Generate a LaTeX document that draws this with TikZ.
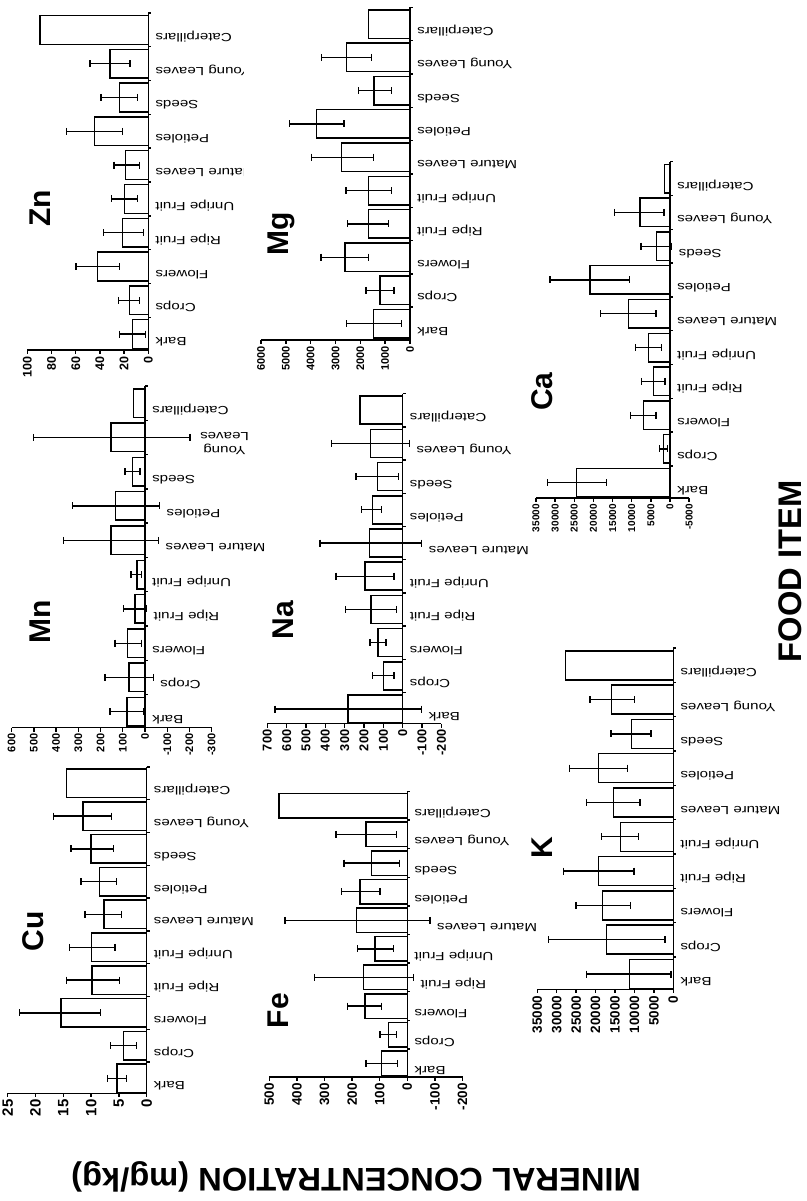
\documentclass[tikz,border=0pt]{standalone}
\usepackage{fontspec}
\setmainfont{Liberation Sans}
\usepackage{graphicx}
\tikzset{
  ax/.style={line width=1.4pt},
  barbox/.style={draw=black, fill=white, line width=1.5pt},
  errbar/.style={line width=1.3pt},
  catlab/.style={rotate=180, anchor=base east, inner sep=0pt, font=\fontsize{11.8}{14}\selectfont},
  ticklab/.style={rotate=90, anchor=east, inner sep=0pt},
  paneltitle/.style={rotate=90, anchor=base, inner sep=0pt, font=\bfseries\fontsize{30}{34}\selectfont},
  bigtitle/.style={inner sep=0pt, font=\bfseries\fontsize{32.7}{36}\selectfont},
}
% #1 id, #2 ticks value/label, #3 data name/value/hi/lo, #4 tick font size
\newcommand\drawpanel[4]{%
  \foreach \nm/\val/\hi/\lo [count=\k] in {#3} {
    \pgfmathsetmacro\yc{\Yb-\Bh/2-(\k-1)*\Pt}
    \draw[ax] (\Xo,\yc-\Pt/2) -- ++(3,0);
    \draw[barbox] ({\Xo-\Sc*\val},\yc-\Bh/2) rectangle (\Xo,\yc+\Bh/2);
    \ifdim\hi pt>0pt
      \draw[errbar] ({\Xo-\Sc*\hi},\yc) -- ({\Xo-\Sc*\lo},\yc);
      \draw[errbar] ({\Xo-\Sc*\hi},\yc-3.5) -- ++(0,7);
      \draw[errbar] ({\Xo-\Sc*\lo},\yc-3.5) -- ++(0,7);
    \fi
    \pgfmathsetmacro\lx{max(\Xo,\Xo-\Sc*\lo)+7}
    \node[catlab] (#1c\k) at (\lx,\yc+3.5) {\scalebox{1.28}[1]{\nm}};
  }
  \pgfmathsetmacro\Ytop{\Yb-\Bh/2-9*\Pt-\Pt/2}
  \draw[ax] (\Xo,\Ya) -- (\Xo,\Ytop);
  \draw[ax] ({\Xo-\Sc*\Vmax},\Ya) -- ({\Xo-\Sc*\Vmin},\Ya);
  \foreach \tv/\tlab [count=\k] in {#2} {
    \draw[ax] ({\Xo-\Sc*\tv},\Ya) -- ++(0,4);
    \node[ticklab, font=\bfseries\fontsize{#4}{#4}\selectfont] (#1t\k) at ({\Xo-\Sc*\tv},\Ya+6) {\tlab};
  }
}
\begin{document}
\begin{tikzpicture}[x=1pt,y=-1pt]
\fill[white] (0,0) rectangle (806,1201);
\useasboundingbox (0,0) rectangle (806,1201);

% ---------- Zn ----------
\begin{scope}
\clip (0,0) rectangle (243,400);
\def\Xo{148.3}\def\Sc{1.21}\def\Ya{350}\def\Yb{348.5}\def\Pt{33.8}\def\Bh{28.8}\def\Vmin{0}\def\Vmax{100}
\drawpanel{zn}{0/0,20/20,40/40,60/60,80/80,100/100}{Bark/13.2/23.7/2.2,Crops/15.7/24.5/7.4,Flowers/42.1/59.8/24,Ripe Fruit/21.2/37.2/4.1,Unripe Fruit/19.8/30.3/9.1,Mature Leaves/18.7/28.4/7.4,Petioles/44.6/67.5/21.2,Seeds/24/39.1/9.1,Young Leaves/31.7/48.2/15.2,Caterpillars/89.5/0/0}{12.5}
\end{scope}
\node[paneltitle] (tZn) at (50,208.5) {Zn};

% ---------- Mn ----------
\def\Xo{145}\def\Sc{0.2222}\def\Ya{727.5}\def\Yb{726}\def\Pt{34.3}\def\Bh{28.5}\def\Vmin{-300}\def\Vmax{600}
\drawpanel{mn}{-300/-300,-200/-200,-100/-100,0/0,100/100,200/200,300/300,400/400,500/500,600/600}{Bark/82/157/4,Crops/72/180/-37,Flowers/78/135/15,Ripe Fruit/45/97/-7,Unripe Fruit/37/63/15,Mature Leaves/153/367/-60,Petioles/132/325/-65,Seeds/57/90/22,{}/153/502/-202,Caterpillars/52/0/0}{11}
\node[rotate=180, anchor=east, align=center, inner sep=0pt, font=\fontsize{11.8}{14}\selectfont] (mnyoung) at (200,443) {\scalebox{1.28}[1]{Young}\\\scalebox{1.28}[1]{Leaves}};
\node[paneltitle] (tMn) at (50,621.5) {Mn};

% ---------- Cu ----------
\def\Xo{146.7}\def\Sc{5.56}\def\Ya{1093.3}\def\Yb{1092.7}\def\Pt{32.8}\def\Bh{28.5}\def\Vmin{0}\def\Vmax{25}
\drawpanel{cu}{0/0,5/5,10/10,15/15,20/20,25/25}{Bark/5.3/7.1/3.6,Crops/4.2/6.5/1.8,Flowers/15.4/22.9/8.3,Ripe Fruit/9.8/14.4/4.9,Unripe Fruit/9.9/13.9/5.7,Mature Leaves/7.7/11.1/4.5,Petioles/8.5/11.8/5.4,Seeds/10.0/13.6/6.0,Young Leaves/11.5/16.8/6.3,Caterpillars/14.4/0/0}{15}
\node[paneltitle] (tCu) at (43,931) {Cu};

% ---------- Mg ----------
\def\Xo{410}\def\Sc{0.024833}\def\Ya{340}\def\Yb{338}\def\Pt{33.3}\def\Bh{28.5}\def\Vmin{0}\def\Vmax{6000}
\drawpanel{mg}{0/0,1000/1000,2000/2000,3000/3000,4000/4000,5000/5000,6000/6000}{Bark/1476/2550/336,Crops/1208/1771/644,Flowers/2617/3583/1678,Ripe Fruit/1678/2523/872,Unripe Fruit/1678/2577/738,Mature Leaves/2751/3959/1476,Petioles/3758/4858/2657,Seeds/1450/2080/738,Young Leaves/2550/3556/1543,Caterpillars/1678/0/0}{11}
\node[paneltitle] (tMg) at (288,234) {Mg};

% ---------- Na ----------
\def\Xo{402.7}\def\Sc{0.1934}\def\Ya{723.5}\def\Yb{723}\def\Pt{33.2}\def\Bh{28}\def\Vmin{-200}\def\Vmax{700}
\drawpanel{na}{-200/-200,-100/-100,0/0,100/100,200/200,300/300,400/400,500/500,600/600,700/700}{Bark/284/660/-98,Crops/100/155/45,Flowers/129/169/86,Ripe Fruit/164/295/31,Unripe Fruit/195/345/45,Mature Leaves/172/428/-98,Petioles/157/212/109,Seeds/131/241/22,Young Leaves/166/367/-34,Caterpillars/221/0/0}{12.8}
\node[paneltitle] (tNa) at (293,620) {Na};

% ---------- Fe ----------
\def\Xo{407.3}\def\Sc{0.276}\def\Ya{1077}\def\Yb{1075.5}\def\Pt{28.6}\def\Bh{24.5}\def\Vmin{-200}\def\Vmax{500}
\drawpanel{fe}{-200/-200,-100/-100,0/0,100/100,200/200,300/300,400/400,500/500}{Bark/93/150/35,Crops/69/99/39,Flowers/153/216/93,Ripe Fruit/159/335/-22,Unripe Fruit/117/181/51,Mature Leaves/184/443/-82,Petioles/171/238/99,Seeds/129/229/29,Young Leaves/150/258/39,Caterpillars/464/0/0}{13.5}
\node[paneltitle] (tFe) at (288,1010.5) {Fe};

% ---------- Ca (values in thousands) ----------
\def\Xo{670}\def\Sc{3.829}\def\Ya{498}\def\Yb{497}\def\Pt{33.8}\def\Bh{28.5}\def\Vmin{-5}\def\Vmax{35}
\drawpanel{ca}{-5/-5000,0/0,5/5000,10/10000,15/15000,20/20000,25/25000,30/30000,35/35000}{Bark/24.38/31.95/16.54,Crops/1.74/2.79/0.70,Flowers/6.97/10.27/3.66,Ripe Fruit/4.35/7.40/1.31,Unripe Fruit/5.66/8.97/2.18,Mature Leaves/10.88/18.11/3.66,Petioles/20.89/31.34/10.62,Seeds/3.48/7.57/-0.44,Young Leaves/7.84/14.54/1.57,Caterpillars/1.48/0/0}{10}
\node[paneltitle] (tCa) at (552,391.5) {Ca};

% ---------- K (values in thousands) ----------
\def\Xo{673.3}\def\Sc{3.886}\def\Ya{989.3}\def\Yb{988.5}\def\Pt{34.3}\def\Bh{29}\def\Vmin{0}\def\Vmax{35}
\drawpanel{k}{0/0,5/5000,10/10000,15/15000,20/20000,25/25000,30/30000,35/35000}{Bark/11.32/22.30/0.60,Crops/17.16/32.17/2.15,Flowers/18.19/25.05/10.98,Ripe Fruit/19.30/28.31/10.12,Unripe Fruit/13.55/18.44/9.01,Mature Leaves/15.44/22.30/8.58,Petioles/19.30/26.76/11.84,Seeds/10.72/16.04/5.75,Young Leaves/15.87/21.45/10.04,Caterpillars/27.71/0/0}{13.5}
\node[paneltitle] (tK) at (552,847.5) {K};

% ---------- axis titles ----------
\node[bigtitle, rotate=90] (food) at (790.5,571.5) {FOOD ITEM};
\node[bigtitle, rotate=180, anchor=base] (mineral) at (356,1168) {MINERAL CONCENTRATION (mg/kg)};
\end{tikzpicture}
\end{document}
